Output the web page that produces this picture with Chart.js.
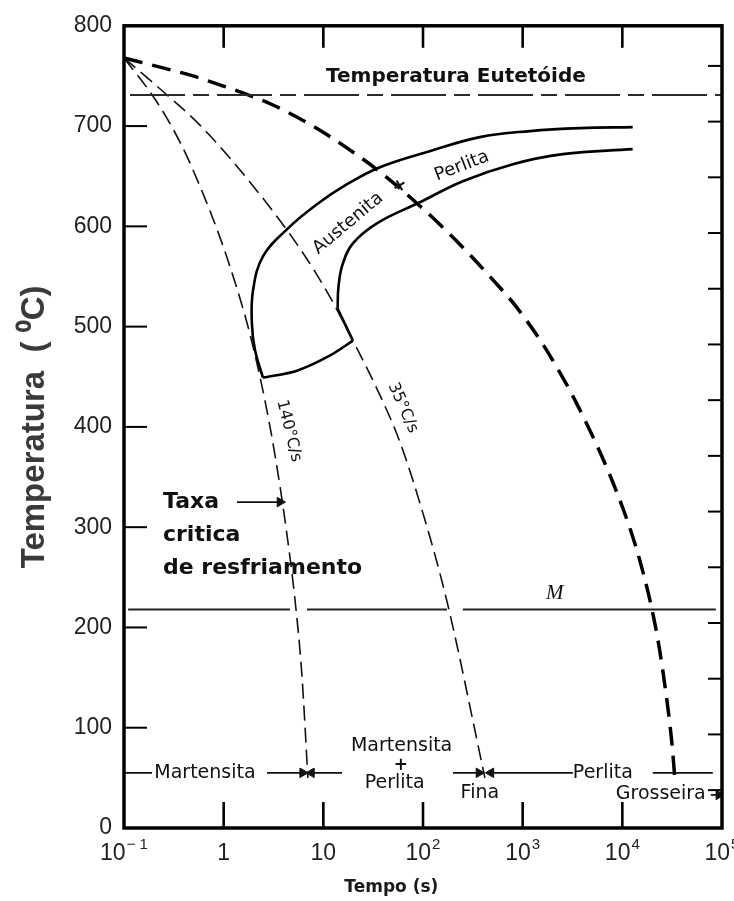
<!DOCTYPE html>
<html>
<head>
<meta charset="utf-8">
<title>Diagrama de resfriamento contínuo</title>
<script src="https://cdn.jsdelivr.net/npm/chart.js@4.4.1/dist/chart.umd.min.js"></script>
<style>
  html, body { margin: 0; padding: 0; background: #fff; }
  #wrap { width: 734px; height: 901px; }
</style>
</head>
<body>
<div id="wrap"><canvas id="cctChart"></canvas></div>
<script>
// ====================================================================
// DATA (time in s, temperature in degC)
// ====================================================================

const timeTicks = [0.1, 1, 10, 100, 1000, 10000, 100000];
const timeTickBase = ['10', '1', '10', '10', '10', '10', '10'];
const timeTickExp = ['\u2212 1', '', '', '2', '3', '4', '5'];
const fahrenheitTicks = [100, 200, 300, 400, 500, 600, 700, 800, 900, 1000, 1100, 1200, 1300, 1400];

// cooling curve 140 degC/s (critical rate)
const rate140Time = [0.1, 0.214, 0.382, 0.578, 0.918, 1.36, 1.84, 2.6, 3.27, 4.12, 5.19, 6.1, 7.0];
const rate140Temp = [768, 724, 680, 640, 589, 538, 492, 426, 372, 307, 228, 152, 50];

// cooling curve 35 degC/s
const rate35Time = [0.1, 0.27, 0.578, 1.84, 6.1, 11.6, 19.8, 34.5, 58.6, 99.8, 174, 418];
const rate35Temp = [768, 731, 701, 644, 575, 530, 486, 438, 385, 314, 226, 50];

// slow cooling (coarse pearlite)
const slowTime = [0.1, 0.246, 0.492, 0.857, 1.56, 3.12, 7.87, 15.7, 39.6, 174, 590, 875, 1750, 3750, 9020, 14960, 21200, 25450, 31400, 33600];
const slowTemp = [768, 758, 750, 742, 733, 721, 700, 681, 652, 595, 539, 519, 476, 417, 332, 267, 204, 157, 85, 50];

// transformation start curve
const startTime = [12700, 3750, 1180, 372, 117, 37, 17.3, 8.63, 4.42, 2.48, 1.97, 1.92, 2.06, 2.48];
const startTemp = [699, 698, 695, 689, 675, 659, 642, 622, 598, 570, 536, 503, 477, 449];

// lower boundary of the transformation region
const bottomTime = [2.48, 5.43, 11.6, 19.8];
const bottomTemp = [449, 456, 471, 486];

// transformation finish curve (straight foot along the 35 degC/s line, then the curve)
const finishFootTime = [19.8, 13.9];
const finishFootTemp = [486, 518];
const finishTime = [13.9, 14.2, 15.6, 19.8, 34.5, 93.1, 251, 798, 2530, 12700];
const finishTemp = [518, 540, 562, 583, 603, 624, 645, 662, 672, 677];

// eutectoid temperature and Ms line (null = gap in the line)
const eutectoidTime = [0.115, 100000];
const eutectoidTemp = [731, 731];
const msTime = [0.11, 4.62, 5.5, 6.85, 174, 210, 251, 86700];
const msTemp = [218, 218, null, 218, 218, null, 218, 218];

// annotation arrows along the bottom and the "Taxa" arrow
const arrowFrom = [0.1, 2.72, 15.4, 200, 3190, 20200, 1.36, 77300];
const arrowTo = [0.191, 6.2, 7.6, 364, 480, 80900, 3.67, 93000];
const arrowTemp = [55, 55, 55, 55, 55, 55, 325, 33];
const arrowHead = [false, true, true, true, true, false, true, true];

// ====================================================================
// TEXT LABELS (anchored in data space)
// ====================================================================

const SANS = '"DejaVu Sans", sans-serif';
const labels = [
  { text: 'Temperatura Eutetóide', t: 214, temp: 749, rot: 0, font: 'bold 20px ' + SANS },
  { text: 'Austenita', t: 17.7, temp: 603, rot: -40, font: '18px ' + SANS },
  { text: '+', t: 58.6, temp: 640, rot: -30, font: 'bold 18px ' + SANS },
  { text: 'Perlita', t: 245, temp: 660, rot: -21, font: '18px ' + SANS },
  { text: '140°C/s', t: 4.52, temp: 396, rot: 76, font: '16px ' + SANS },
  { text: '35°C/s', t: 62.8, temp: 419, rot: 66, font: '16px ' + SANS },
  { text: 'M', t: 2100, temp: 234, rot: 0, font: 'italic 21px "Liberation Serif", serif' },
  { text: 'Taxa', t: 0.246, temp: 325, rot: 0, font: 'bold 22px ' + SANS, align: 'left' },
  { text: 'critica', t: 0.246, temp: 292, rot: 0, font: 'bold 22px ' + SANS, align: 'left' },
  { text: 'de resfriamento', t: 0.246, temp: 259, rot: 0, font: 'bold 22px ' + SANS, align: 'left' },
  { text: 'Martensita', t: 0.649, temp: 55, rot: 0, font: '19px ' + SANS },
  { text: 'Martensita', t: 61, temp: 82, rot: 0, font: '19px ' + SANS },
  { text: '+', t: 60, temp: 62, rot: 0, font: 'bold 17px ' + SANS },
  { text: 'Perlita', t: 52, temp: 45, rot: 0, font: '19px ' + SANS },
  { text: 'Fina', t: 372, temp: 35, rot: 0, font: '19px ' + SANS },
  { text: 'Perlita', t: 6370, temp: 55, rot: 0, font: '19px ' + SANS },
  { text: 'Grosseira', t: 24300, temp: 34, rot: 0, font: '19px ' + SANS }
];

const pts = (xs, ys) => xs.map((x, i) => ({ x: x, y: ys[i] }));

function curve(xs, ys, opts) {
  return Object.assign({
    data: pts(xs, ys),
    borderColor: '#111',
    borderWidth: 2,
    pointRadius: 0,
    tension: 0.4,
    fill: false
  }, opts);
}

const datasets = [
  curve(eutectoidTime, eutectoidTemp, { borderColor: '#2a2a2a', borderWidth: 2, borderDash: [55, 8, 16, 8], tension: 0 }),
  curve(msTime, msTemp, { borderColor: '#222', borderWidth: 2, tension: 0, spanGaps: false }),
  curve(rate140Time, rate140Temp, { borderWidth: 1.6, borderDash: [15, 7], cubicInterpolationMode: 'monotone' }),
  curve(rate35Time, rate35Temp, { borderWidth: 1.6, borderDash: [15, 7], cubicInterpolationMode: 'monotone' }),
  curve(slowTime, slowTemp, { borderWidth: 3.5, borderDash: [19, 10], borderColor: '#000', cubicInterpolationMode: 'monotone' }),
  curve(startTime, startTemp, { borderWidth: 2.6, borderColor: '#000' }),
  curve(bottomTime, bottomTemp, { borderWidth: 2.6, borderColor: '#000', tension: 0.3 }),
  curve(finishFootTime, finishFootTemp, { borderWidth: 2.6, borderColor: '#000', tension: 0 }),
  curve(finishTime, finishTemp, { borderWidth: 2.6, borderColor: '#000' })
];

arrowFrom.forEach((from, i) => {
  const to = arrowTo[i];
  datasets.push({
    data: pts([from, to], [arrowTemp[i], arrowTemp[i]]),
    borderColor: '#111',
    borderWidth: 1.6,
    tension: 0,
    pointStyle: 'triangle',
    pointRadius: [0, arrowHead[i] ? 5.5 : 0],
    pointRotation: [0, to > from ? 90 : -90],
    pointBackgroundColor: '#111',
    pointBorderColor: '#111',
    pointBorderWidth: 1
  });
});

// ====================================================================
// DECORATION: frame, inward ticks, power-of-ten labels, annotations
// ====================================================================

function seg(ctx, x1, y1, x2, y2) {
  ctx.beginPath();
  ctx.moveTo(x1, y1);
  ctx.lineTo(x2, y2);
  ctx.stroke();
}

const cctDecor = {
  id: 'cctDecor',
  afterDraw(chart) {
    const { ctx, chartArea: a, scales } = chart;
    const xs = scales.x;
    const ys = scales.y;
    ctx.save();
    ctx.strokeStyle = '#000';
    ctx.fillStyle = '#111';

    // inward tick marks on bottom and top
    ctx.lineWidth = 2.6;
    timeTicks.slice(1, -1).forEach(v => {
      const px = xs.getPixelForValue(v);
      seg(ctx, px, a.bottom, px, a.bottom - 26);
      seg(ctx, px, a.top, px, a.top + 22);
    });

    // inward ticks on the left (degC) and right (degF)
    ctx.lineWidth = 2;
    ys.ticks.forEach(t => {
      if (t.value <= 0 || t.value >= 800) return;
      const py = ys.getPixelForValue(t.value);
      seg(ctx, a.left, py, a.left + 23, py);
    });
    fahrenheitTicks.forEach(f => {
      const py = ys.getPixelForValue((f - 32) * 5 / 9);
      seg(ctx, a.right - 14, py, a.right, py);
    });

    // frame
    ctx.lineWidth = 3.5;
    ctx.strokeRect(a.left, a.top, a.right - a.left, a.bottom - a.top);

    // x tick labels 10^n
    ctx.fillStyle = '#222';
    ctx.textBaseline = 'alphabetic';
    ctx.textAlign = 'left';
    timeTicks.forEach((v, i) => {
      const px = xs.getPixelForValue(v);
      ctx.font = '23px "Liberation Sans", Arial, sans-serif';
      const bw = ctx.measureText(timeTickBase[i]).width;
      ctx.font = '15px "Liberation Sans", Arial, sans-serif';
      const ew = timeTickExp[i] ? ctx.measureText(timeTickExp[i]).width + 1 : 0;
      const x0 = px - (bw + ew) / 2;
      ctx.font = '23px "Liberation Sans", Arial, sans-serif';
      ctx.fillText(timeTickBase[i], x0, a.bottom + 32);
      if (timeTickExp[i]) {
        ctx.font = '15px "Liberation Sans", Arial, sans-serif';
        ctx.fillText(timeTickExp[i], x0 + bw + 1, a.bottom + 21);
      }
    });

    // x axis title
    ctx.fillStyle = '#1a1a1a';
    ctx.font = 'bold 17px ' + SANS;
    ctx.textAlign = 'center';
    ctx.textBaseline = 'middle';
    ctx.fillText('Tempo (s)', a.left + (a.right - a.left) * 0.447, a.bottom + 60);

    // annotations
    ctx.fillStyle = '#111';
    labels.forEach(l => {
      ctx.save();
      ctx.translate(xs.getPixelForValue(l.t), ys.getPixelForValue(l.temp));
      ctx.rotate(l.rot * Math.PI / 180);
      ctx.font = l.font;
      ctx.textAlign = l.align || 'center';
      ctx.textBaseline = 'middle';
      ctx.fillText(l.text, 0, 0);
      ctx.restore();
    });

    ctx.restore();
  }
};

const canvas = document.getElementById('cctChart');
const cctChart = new Chart(canvas.getContext('2d'), {
  type: 'line',
  data: { datasets: datasets },
  options: {
    responsive: true,
    maintainAspectRatio: false,
    animation: false,
    events: [],
    layout: { padding: { left: 0, right: 12, top: 21, bottom: 0 } },
    plugins: {
      legend: { display: false },
      tooltip: { enabled: false }
    },
    scales: {
      x: {
        type: 'logarithmic',
        min: 0.1,
        max: 100000,
        ticks: { display: false },
        grid: { display: false, drawTicks: false },
        border: { display: false },
        afterFit: s => { s.height = 73; }
      },
      y: {
        type: 'linear',
        min: 0,
        max: 800,
        ticks: {
          stepSize: 100,
          color: '#222',
          padding: 12,
          font: { family: '"Liberation Sans", Arial, sans-serif', size: 23 }
        },
        grid: { display: false, drawTicks: false },
        border: { display: false },
        title: {
          display: true,
          text: 'Temperatura  ( \u2070C)',
          color: '#3a3a3a',
          font: { family: '"Liberation Sans", Arial, sans-serif', size: 33, weight: 'bold' },
          padding: { top: 15, bottom: 0 }
        },
        afterFit: s => { s.width = 124; }
      }
    }
  },
  plugins: [cctDecor]
});
</script>
</body>
</html>
